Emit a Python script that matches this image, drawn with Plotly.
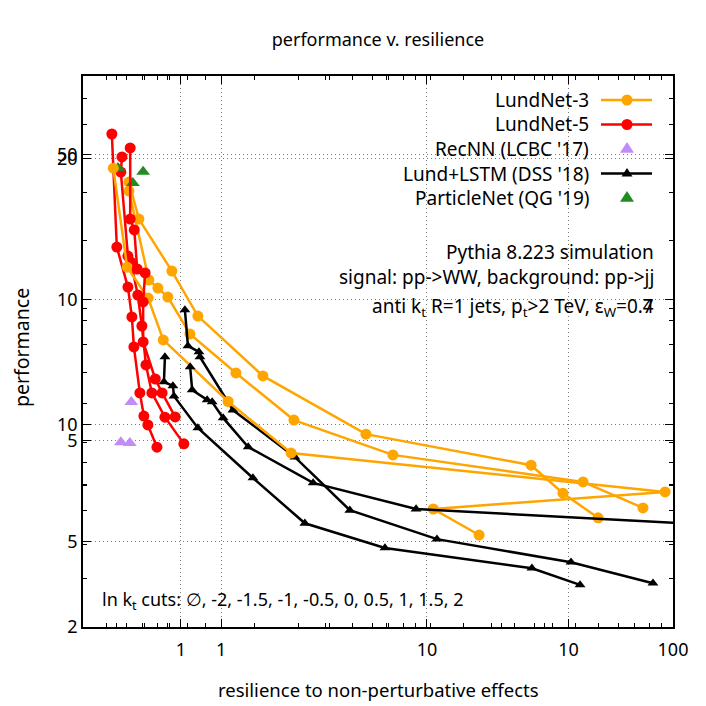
import math
import plotly.graph_objects as go

# ---------------- data ----------------
# plot drawn on axis set A (x: 0.4-100, y: 2-30)
lundnet3_a1_x = [0.615, 0.675, 0.919, 1.172, 2.154, 5.65, 26.5, 35.7, 49.6]
lundnet3_a1_y = [17.81, 14.85, 11.50, 9.22, 6.87, 5.16, 4.43, 3.86, 3.42]
lundnet3_a2_x = [0.615, 0.741, 0.806, 0.885, 1.088, 1.673, 2.880, 7.27, 43.1, 75.5]
lundnet3_a2_y = [17.04, 11.01, 10.58, 10.12, 8.44, 6.97, 5.53, 4.66, 4.08, 3.59]
lundnet5_a1_x = [0.524, 0.549, 0.609, 0.632, 0.644, 0.681, 0.707, 0.734, 0.799]
lundnet5_a1_y = [22.56, 12.94, 10.63, 9.18, 7.92, 6.32, 5.64, 5.40, 4.84]
lundnet5_a2_x = [0.576, 0.570, 0.609, 0.626, 0.668, 0.694, 0.721, 0.762, 0.861, 1.028]
lundnet5_a2_y = [20.15, 18.71, 12.38, 12.02, 10.22, 8.78, 7.25, 6.32, 5.61, 4.92]
lstm_a1_x = [1.038, 1.068, 1.184, 1.195, 1.627, 2.907, 4.86, 10.98, 38.5, 82.9]
lstm_a1_y = [9.50, 7.96, 7.73, 7.54, 5.81, 4.61, 3.55, 3.08, 2.75, 2.48]
lstm_a2_x = [0.861, 0.853, 0.928, 0.937, 1.172, 1.962, 3.19, 6.75, 26.7, 41.9]
lstm_a2_y = [7.54, 6.67, 6.54, 6.22, 5.32, 4.16, 3.33, 2.95, 2.67, 2.46]
recnn_a_x = [0.570, 0.620]
recnn_a_y = [4.96, 4.94]
pnet_a_x = [0.555, 0.638]
pnet_a_y = [19.09, 17.73]

# plot drawn on axis set B (x: 0.4-20, y: 3-80)
lundnet3_b_x = [0.489, 0.536, 0.616, 0.681, 1.047, 1.590, 18.98, 4.08, 5.53]
lundnet3_b_y = [46.2, 25.6, 21.3, 16.6, 11.5, 8.46, 6.71, 6.06, 5.19]
lundnet5_b_x = [0.547, 0.547, 0.562, 0.573, 0.604, 0.596, 0.596, 0.646, 0.676, 0.737]
lundnet5_b_y = [52.1, 34.1, 31.96, 25.33, 24.74, 20.81, 16.40, 13.15, 12.10, 10.49]
lstm_b_x = [0.814, 0.825, 0.911, 0.942, 1.013, 1.196, 1.840, 3.64, 90.2]
lstm_b_y = [14.13, 12.32, 11.61, 11.47, 10.43, 8.77, 7.08, 6.06, 5.19]
recnn_b_x = [0.551]
recnn_b_y = [11.47]
pnet_b_x = [0.596]
pnet_b_y = [45.2]

# axis ranges and ticks
xa_range = [0.4, 100]
ya_range = [2, 30]
xb_range = [0.4, 20]
yb_range = [3, 80]
xa_ticks = [1, 10, 100]
ya_ticks = [2, 5, 10, 20]
xb_ticks = [1, 10]
yb_ticks = [5, 10, 50]

legend_names = ["LundNet-3", "LundNet-5", "RecNN (LCBC '17)",
                "Lund+LSTM (DSS '18)", "ParticleNet (QG '19)"]

ORANGE = "#FFA500"
RED = "#FF0000"
PURPLE = "#C08CF5"
GREEN = "#228B22"
BLACK = "#000000"
FONT = "Noto Sans"

W, H = 706, 706
L, R, T, B = 83, 33, 76, 79
PW, PH = W - L - R, H - T - B


def px(xp):
    return (xp - L) / PW


def py(yp):
    return (H - B - yp) / PH


fig = go.Figure()


def line_trace(x, y, color, sym, size, xa, ya):
    fig.add_trace(go.Scatter(
        x=x, y=y, mode="lines+markers", xaxis=xa, yaxis=ya,
        line=dict(color=color, width=2.5),
        marker=dict(color=color, symbol=sym, size=size),
        showlegend=False, cliponaxis=True))


def pt_trace(x, y, color, sym, size, xa, ya):
    fig.add_trace(go.Scatter(
        x=x, y=y, mode="markers", xaxis=xa, yaxis=ya,
        marker=dict(color=color, symbol=sym, size=size),
        showlegend=False))


# set A
line_trace(lundnet3_a1_x, lundnet3_a1_y, ORANGE, "circle", 11, "x", "y")
line_trace(lundnet3_a2_x, lundnet3_a2_y, ORANGE, "circle", 11, "x", "y")
line_trace(lundnet5_a1_x, lundnet5_a1_y, RED, "circle", 11, "x", "y")
line_trace(lundnet5_a2_x, lundnet5_a2_y, RED, "circle", 11, "x", "y")
pt_trace(recnn_a_x, recnn_a_y, PURPLE, "triangle-up", 12, "x", "y")
line_trace(lstm_a1_x, lstm_a1_y, BLACK, "triangle-up", 9.5, "x", "y")
line_trace(lstm_a2_x, lstm_a2_y, BLACK, "triangle-up", 9.5, "x", "y")
pt_trace(pnet_a_x, pnet_a_y, GREEN, "triangle-up", 12, "x", "y")
# set B
line_trace(lundnet3_b_x, lundnet3_b_y, ORANGE, "circle", 11, "x2", "y2")
line_trace(lundnet5_b_x, lundnet5_b_y, RED, "circle", 11, "x2", "y2")
pt_trace(recnn_b_x, recnn_b_y, PURPLE, "triangle-up", 12, "x2", "y2")
line_trace(lstm_b_x, lstm_b_y, BLACK, "triangle-up", 9.5, "x2", "y2")
pt_trace(pnet_b_x, pnet_b_y, GREEN, "triangle-up", 12, "x2", "y2")


def minor_vals(lo, hi):
    vals = []
    d = 10 ** math.floor(math.log10(lo))
    while d <= hi:
        for m in range(2, 10):
            v = m * d
            if lo < v < hi:
                vals.append(v)
        d *= 10
    return vals


def ax(rng, ticks, **kw):
    base = dict(
        type="log", range=[math.log10(rng[0]), math.log10(rng[1])],
        tickmode="array", tickvals=ticks, ticktext=[str(t) for t in ticks],
        ticks="inside", ticklen=8, tickwidth=1.2, tickcolor="black",
        showline=True, linecolor="black", linewidth=1.6, mirror="allticks",
        showgrid=True, gridcolor="#7a7a7a", gridwidth=1, griddash="1px,3px",
        zeroline=False,
        tickfont=dict(family=FONT, size=18, color="black"),
        minor=dict(tickmode="array", tickvals=minor_vals(rng[0], rng[1]),
                   ticks="inside", ticklen=4, tickcolor="black", tickwidth=1.2,
                   showgrid=False),
    )
    base.update(kw)
    return base


fig.update_layout(
    width=W, height=H,
    margin=dict(l=L, r=R, t=T, b=B),
    paper_bgcolor="white", plot_bgcolor="white",
    showlegend=False,
    font=dict(family=FONT, size=18, color="black"),
    xaxis=ax(xa_range, xa_ticks, anchor="y", ticklabelstandoff=6),
    yaxis=ax(ya_range, ya_ticks, anchor="x"),
    xaxis2=ax(xb_range, xb_ticks, overlaying="x", anchor="y2", side="bottom",
              ticklabelstandoff=6),
    yaxis2=ax(yb_range, yb_ticks, overlaying="y", anchor="x2", side="left"),
    title=dict(text="performance v. resilience", x=0.5, xref="paper",
               y=1 - 40 / H, yanchor="middle",
               font=dict(family=FONT, size=18, color="black")),
)

# opaque key box hiding grid lines
fig.add_shape(type="rect", xref="paper", yref="paper",
              x0=px(378), x1=1, y0=py(212), y1=1,
              fillcolor="white", line=dict(width=0), layer="between")

ann = []
ann.append(dict(text="resilience to non-perturbative effects", x=px(378), y=py(689),
                xref="paper", yref="paper", showarrow=False,
                xanchor="center", yanchor="middle", font=dict(size=18.5)))
ann.append(dict(text="performance", x=px(21), y=py(348), xref="paper", yref="paper",
                showarrow=False, textangle=-90, xanchor="center", yanchor="middle",
                font=dict(size=19.5)))

# key entries
rows = [100, 124.5, 149, 173.5, 198]
for name, yy in zip(legend_names, rows):
    ann.append(dict(text=name, x=px(591), y=py(yy), xref="paper", yref="paper",
                    showarrow=False, xanchor="right", yanchor="middle",
                    font=dict(size=19)))

for yy, color in [(rows[0], ORANGE), (rows[1], RED), (rows[3], BLACK)]:
    fig.add_shape(type="line", xref="paper", yref="paper",
                  x0=px(601), x1=px(652), y0=py(yy), y1=py(yy),
                  line=dict(color=color, width=2.5), layer="above")
for yy, color in [(rows[0], ORANGE), (rows[1], RED)]:
    fig.add_shape(type="circle", xref="paper", yref="paper",
                  xsizemode="pixel", ysizemode="pixel",
                  xanchor=px(627), yanchor=py(yy),
                  x0=-5.5, x1=5.5, y0=-5.5, y1=5.5,
                  fillcolor=color, line=dict(width=0), layer="above")
for yy, color, s in [(rows[2], PURPLE, 7), (rows[3], BLACK, 5.5), (rows[4], GREEN, 7)]:
    h = s * 0.9
    fig.add_shape(type="path", xref="paper", yref="paper",
                  xsizemode="pixel", ysizemode="pixel",
                  xanchor=px(627), yanchor=py(yy),
                  path=f"M {-s} {-h*0.6} L {s} {-h*0.6} L 0 {h*1.1} Z",
                  fillcolor=color, line=dict(width=0), layer="above")

# info text
info = ["Pythia 8.223 simulation",
        "signal: pp->WW, background: pp->jj"]
for t, yy in zip(info, [252, 277]):
    ann.append(dict(text=t, x=px(656), y=py(yy), xref="paper", yref="paper",
                    showarrow=False, xanchor="right", yanchor="middle",
                    font=dict(size=19)))
kt_line = "anti k<sub>t</sub> R=1 jets, p<sub>t</sub>>2 TeV, ε<sub>W</sub>=0."
ann.append(dict(text=kt_line + "4", x=px(656), y=py(307), xref="paper", yref="paper",
                showarrow=False, xanchor="right", yanchor="middle",
                font=dict(size=19)))
ann.append(dict(text='<span style="color:rgba(0,0,0,0)">' + kt_line + "</span>7",
                x=px(656), y=py(307), xref="paper", yref="paper",
                showarrow=False, xanchor="right", yanchor="middle",
                font=dict(size=19)))
ann.append(dict(text="ln k<sub>t</sub> cuts: ∅, -2, -1.5, -1, -0.5, 0, 0.5, 1, 1.5, 2",
                x=px(100), y=py(600), xref="paper", yref="paper",
                showarrow=False, xanchor="left", yanchor="middle",
                font=dict(size=18)))

fig.update_layout(annotations=ann)

fig.write_html("out.html", config={"displayModeBar": False},
               post_script="document.body.style.margin='0px';")
